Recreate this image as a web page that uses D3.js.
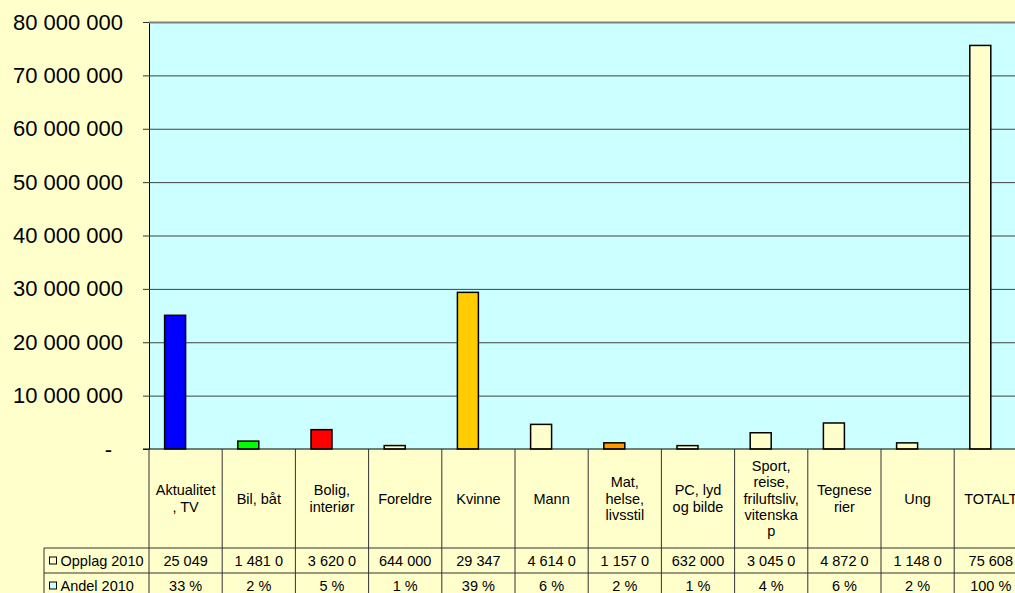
<!DOCTYPE html>
<html><head><meta charset="utf-8">
<script src="https://cdn.jsdelivr.net/npm/d3@7"></script>
<style>
html,body{margin:0;padding:0;background:#FFFFCC;overflow:hidden;}
svg{display:block;font-family:Arial,"Liberation Sans",sans-serif;}
</style></head><body>
<svg id="c" width="1015" height="593"></svg>
<script>
const categories = ["Aktualitet, TV","Bil, båt","Bolig, interiør","Foreldre","Kvinne","Mann","Mat, helse, livsstil","PC, lyd og bilde","Sport, reise, friluftsliv, vitenskap","Tegneserier","Ung","TOTALT"];
const headerLines = [["Aktualitet",", TV"],["Bil, båt"],["Bolig,","interiør"],["Foreldre"],["Kvinne"],["Mann"],["Mat,","helse,","livsstil"],["PC, lyd","og bilde"],["Sport,","reise,","friluftsliv,","vitenska","p"],["Tegnese","rier"],["Ung"],["TOTALT"]];
const opplag2010 = [25049000,1481000,3620000,644000,29347000,4614000,1157000,632000,3045000,4872000,1148000,75608000];
const opplagLabels = ["25 049","1 481 0","3 620 0","644 000","29 347","4 614 0","1 157 0","632 000","3 045 0","4 872 0","1 148 0","75 608"];
const andel2010 = [0.33,0.02,0.05,0.01,0.39,0.06,0.02,0.01,0.04,0.06,0.02,1.00];
const andelLabels = ["33 %","2 %","5 %","1 %","39 %","6 %","2 %","1 %","4 %","6 %","2 %","100 %"];
const barColors = ["#0000FF","#00FF00","#FF0000","#FFFFCC","#FFCC00","#FFFFCC","#FF9900","#FFFFCC","#FFFFCC","#FFFFCC","#FFFFCC","#FFFFCC"];
const seriesNames = ["Opplag 2010","Andel 2010"];
const seriesKeyColors = ["#FFFFCC","#CCFFFF"];
const yTicks = [0,10000000,20000000,30000000,40000000,50000000,60000000,70000000,80000000];

const svg = d3.select("#c");
const mLeft = 149, mTop = 22, base = 449, colW = 73.2;
const mRight = mLeft + colW*categories.length;
const x = d3.scaleBand().domain(categories).range([mLeft, mRight]).padding(0);
const xs = d3.scaleBand().domain(seriesNames).range([0, x.bandwidth()]).paddingInner(0).paddingOuter(0.743);
const y = d3.scaleLinear().domain([0,80000000]).range([base, mTop]);

svg.append("rect").attr("x",mLeft).attr("y",mTop).attr("width",mRight-mLeft).attr("height",base-mTop).attr("fill","#CCFFFF");

const fmt = v => v===0 ? "-" : d3.format(",")(v).replace(/,/g," ");
const ya = svg.append("g").attr("transform",`translate(${mLeft},0)`)
  .call(d3.axisLeft(y).tickValues(yTicks).tickSize(6).tickSizeOuter(0).tickFormat(fmt));
ya.select(".domain").attr("stroke","#000");
ya.selectAll(".tick line").attr("stroke","#333");
ya.selectAll(".tick text").attr("font-size","22px").attr("fill","#000").attr("font-family","Arial, 'Liberation Sans', sans-serif")
  .attr("x",d => d===0 ? -37 : -26);

svg.append("g").selectAll("line").data(yTicks.filter(t=>t>0)).join("line")
  .attr("x1",mLeft).attr("x2",mRight).attr("y1",d=>y(d)+0.5).attr("y2",d=>y(d)+0.5)
  .attr("stroke",d=>d===80000000?"#808080":"#404040").attr("stroke-width",d=>d===80000000?2:1);

svg.append("g").selectAll("rect").data(categories).join("rect")
  .attr("x",(d)=>x(d)+xs("Opplag 2010"))
  .attr("width",xs.bandwidth())
  .attr("y",(d,i)=>y(opplag2010[i]))
  .attr("height",(d,i)=>base-y(opplag2010[i]))
  .attr("fill",(d,i)=>barColors[i]).attr("stroke","#000").attr("stroke-width",1.5);
svg.append("g").selectAll("rect").data(categories).join("rect")
  .attr("x",(d)=>x(d)+xs("Andel 2010"))
  .attr("width",xs.bandwidth())
  .attr("y",(d,i)=>y(andel2010[i]))
  .attr("height",(d,i)=>base-y(andel2010[i]))
  .attr("fill","#CCFFFF");

svg.append("line").attr("x1",mLeft-6).attr("x2",mRight).attr("y1",base).attr("y2",base).attr("stroke","#000").attr("stroke-width",1.2);

const hdrBottom = 548, row1Bottom = 573, row2Bottom = 598, labelLeft = 44;
const tg = svg.append("g");
const ls = "#333";
tg.selectAll("line.v").data(categories.concat(["_end"])).join("line").attr("class","v")
  .attr("x1",(d,i)=>mLeft+i*colW).attr("x2",(d,i)=>mLeft+i*colW)
  .attr("y1",base).attr("y2",row2Bottom).attr("stroke",ls).attr("stroke-width",1);
tg.append("line").attr("x1",labelLeft).attr("x2",labelLeft).attr("y1",hdrBottom).attr("y2",row2Bottom).attr("stroke",ls);
[hdrBottom,row1Bottom].forEach(yy=>{
  tg.append("line").attr("x1",labelLeft).attr("x2",mRight).attr("y1",yy).attr("y2",yy).attr("stroke",ls);
});
const lh = 16.4, hdrMid = 498.5;
tg.selectAll("text.h").data(headerLines).join("text").attr("class","h")
  .attr("text-anchor","middle").attr("font-size","14.5px").attr("fill","#000")
  .each(function(lines,i){
    const cx = x(categories[i]) + x.bandwidth()/2;
    const y0 = hdrMid - (lines.length-1)*lh/2;
    d3.select(this).selectAll("tspan").data(lines).join("tspan")
      .attr("x",cx).attr("y",(l,j)=>y0+j*lh).attr("dy","0.35em").text(l=>l);
  });
const rows = [{labels:opplagLabels, yc:560.5},{labels:andelLabels, yc:585.5}];
rows.forEach((r,ri)=>{
  tg.append("g").selectAll("text").data(r.labels).join("text")
    .attr("x",(d,i)=>x(categories[i])+x.bandwidth()/2).attr("y",r.yc).attr("dy","0.35em")
    .attr("text-anchor","middle").attr("font-size","14.5px").attr("fill","#000").text(d=>d);
  tg.append("rect").attr("x",49.5).attr("y",r.yc-3.5).attr("width",7).attr("height",7)
    .attr("fill",seriesKeyColors[ri]).attr("stroke","#000").attr("stroke-width",1);
  tg.append("text").attr("x",60.5).attr("y",r.yc).attr("dy","0.35em").attr("font-size","14.5px").attr("fill","#000").text(seriesNames[ri]);
});
</script>
</body></html>
